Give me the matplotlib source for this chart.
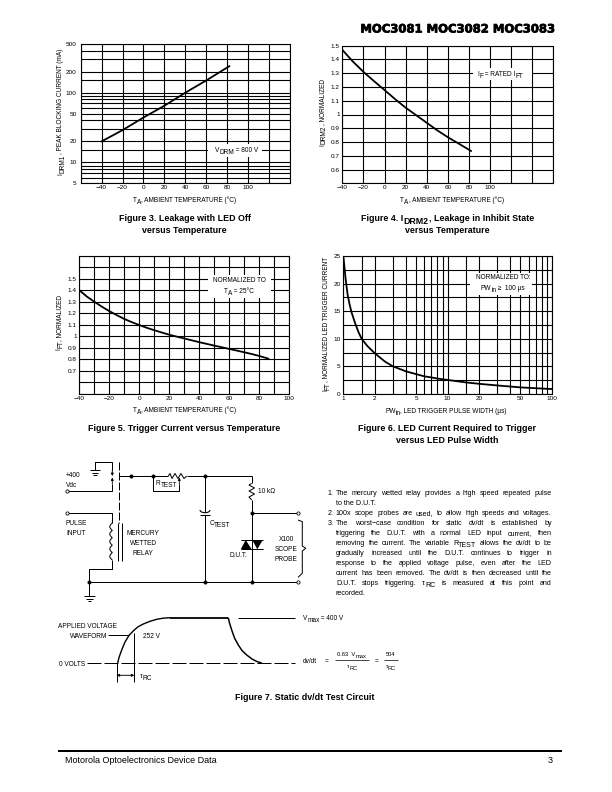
import re
import numpy as np
import matplotlib
matplotlib.use("Agg")
import matplotlib.pyplot as plt
import matplotlib.patheffects as pe

plt.rcParams['font.family'] = ['Liberation Sans', 'DejaVu Sans']

# figure 3
fig3_t = [-40, -20, 0, 20, 40, 60, 82]
fig3_i = [20, 29, 44, 65, 100, 150, 240]
fig3_xgrid = np.arange(-60, 141, 20)
fig3_ygrid = [5, 6, 7, 8, 9, 10, 15, 20, 30, 40, 50, 60, 70, 80, 90, 100, 150, 200, 300, 400, 500]
fig3_xticks = [-40, -20, 0, 20, 40, 60, 80, 100]
fig3_yticks = [5, 10, 20, 50, 100, 200, 500]

# figure 4
fig4_t = [-40, -30, -20, -10, 0, 10, 20, 30, 40, 50, 60, 70, 82]
fig4_i = [1.47, 1.385, 1.31, 1.243, 1.178, 1.112, 1.05, 0.995, 0.94, 0.885, 0.835, 0.79, 0.735]
fig4_xgrid = np.arange(-40, 161, 20)
fig4_ygrid = np.arange(0.5, 1.51, 0.1)
fig4_xticks = [-40, -20, 0, 20, 40, 60, 80, 100]
fig4_yticks = [0.6, 0.7, 0.8, 0.9, 1, 1.1, 1.2, 1.3, 1.4, 1.5]

# figure 5
fig5_t = [-40, -35, -30, -25, -20, -15, -10, -5, 0, 5, 10, 15, 20, 25, 30, 35, 40, 45, 50, 55, 60, 65, 70, 75, 80, 86]
fig5_i = [1.40, 1.345, 1.30, 1.257, 1.218, 1.183, 1.15, 1.122, 1.097, 1.073, 1.052, 1.032, 1.013,
          0.996, 0.98, 0.964, 0.948, 0.933, 0.918, 0.904, 0.889, 0.875, 0.86, 0.845, 0.828, 0.805]
fig5_xgrid = np.arange(-40, 101, 10)
fig5_ygrid = np.arange(0.5, 1.71, 0.1)
fig5_xticks = [-40, -20, 0, 20, 40, 60, 80, 100]
fig5_yticks = [0.7, 0.8, 0.9, 1, 1.1, 1.2, 1.3, 1.4, 1.5]

# figure 6
fig6_pw = [1, 1.02, 1.05, 1.1, 1.15, 1.2, 1.3, 1.4, 1.5, 1.7, 2, 2.5, 3, 4, 5, 6, 7, 8, 10, 15, 20, 30, 50, 70, 100]
fig6_i = [25, 23.5, 21, 18, 16.2, 14.8, 12.8, 11.2, 10, 8.7, 7.4, 5.9, 5, 4.1, 3.6, 3.2, 3, 2.8, 2.55,
          2.1, 1.85, 1.55, 1.2, 1.05, 0.9]
fig6_xgrid = [1, 1.5, 2, 3, 4, 5, 6, 7, 8, 9, 10, 15, 20, 30, 40, 50, 60, 70, 80, 90, 100]
fig6_ygrid = np.arange(0, 25.1, 2.5)
fig6_xticks = [1, 2, 5, 10, 20, 50, 100]
fig6_yticks = [0, 5, 10, 15, 20, 25]

# waveform of figure 7, page pixels
rise_x = [117.7, 119, 121.7, 125, 129.3, 134.3, 138, 143.3, 150, 156.7, 163, 170]
rise_y = [663, 657.5, 650, 642, 635, 630, 626.8, 624, 621.3, 619.3, 618.2, 617.7]
fall_x = [228.3, 229.5, 231.7, 234.5, 238.3, 242, 246.7, 252, 257, 261.7]
fall_y = [617.7, 623, 630, 638, 645, 650.5, 655, 659, 661.6, 663]

notes = [
    ("1.", "The mercury wetted relay provides a high speed repeated pulse", True),
    ("", "to the D.U.T.", False),
    ("2.", "100x scope probes are used, to allow high speeds and voltages.", True),
    ("3.", "The worst\u2212case condition for static dv/dt is established by", True),
    ("", "triggering the D.U.T. with a normal LED input current, then", True),
    ("", "removing the current. The variable R_{TEST} allows the dv/dt to be", True),
    ("", "gradually increased until the D.U.T. continues to trigger in", True),
    ("", "response to the applied voltage pulse, even after the LED", True),
    ("", "current has been removed. The dv/dt is then decreased until the", True),
    ("", "D.U.T. stops triggering. \u03c4_{RC} is measured at this point and", True),
    ("", "recorded.", False),
]

W, H = 612.0, 792.0
fig = plt.figure(figsize=(8.5, 11), dpi=72)
page = fig.add_axes([0, 0, 1, 1], zorder=5)
page.set_xlim(0, W)
page.set_ylim(H, 0)
page.axis('off')
page.patch.set_alpha(0)
rend = fig.canvas.get_renderer()


def chart(box, xlim, ylim, xgrid, ygrid, xticks, yticks, x, y, pad=2.5, logx=False, logy=False):
    l, r, t, b = box
    ax = fig.add_axes([l/W, 1-b/H, (r-l)/W, (b-t)/H])
    if logx:
        ax.set_xscale('log')
    if logy:
        ax.set_yscale('log')
    ax.set_xlim(xlim)
    ax.set_ylim(ylim)
    ax.minorticks_off()
    ax.set_xticks(xticks)
    ax.set_yticks(yticks)
    ax.set_xticklabels([str(v).replace('-', '\u2212') for v in xticks], fontsize=6.4)
    ax.set_yticklabels([str(v) for v in yticks], fontsize=6.4)
    ax.tick_params(length=0)
    ax.tick_params(axis='x', pad=2)
    ax.tick_params(axis='y', pad=pad)
    ax.vlines(xgrid, ylim[0], ylim[1], color='k', lw=1.1, zorder=1)
    ax.hlines(ygrid, xlim[0], xlim[1], color='k', lw=1.1, zorder=1)
    ax.plot(x, y, color='k', lw=1.8, zorder=3)
    for s in ax.spines.values():
        s.set_linewidth(1.1)
    return ax


def text_width(s, size, weight='normal'):
    # the bars stop a trailing space getting lost in the measure
    t1 = page.text(0, 0, "|" + s + "|", fontsize=size, weight=weight)
    t2 = page.text(0, 0, "||", fontsize=size, weight=weight)
    w = t1.get_window_extent(rend).width - t2.get_window_extent(rend).width
    t1.remove()
    t2.remove()
    return w


def split_subs(s):
    # "T_{A}, x" -> [("T", False), ("A", True), (", x", False)]
    bits = re.split(r'_\{([^}]*)\}', s)
    return [(b, i % 2 == 1) for i, b in enumerate(bits) if b]


def rich_width(s, size, weight='normal'):
    return sum(text_width(b, size, weight) for b, _ in split_subs(s))


def label(x, y, s, size=6.5, ha='center', rotation=0, weight='normal'):
    # text with subscripts as large as the text, as the data sheet has them
    total = rich_width(s, size, weight)
    off = {'left': 0, 'center': -total/2, 'right': -total}[ha]
    base = 0.36*size
    for b, is_sub in split_subs(s):
        drop = 0.3*size if is_sub else 0
        if rotation == 90:
            px, py = x + base + drop, y - off
        else:
            px, py = x + off, y + base + drop
        page.text(px, py, b, fontsize=size, ha='left', va='baseline', rotation=rotation,
                  rotation_mode='anchor', weight=weight)
        off += text_width(b, size, weight)


def wire(xs, ys, lw=1.0, **kw):
    page.plot(xs, ys, color='k', lw=lw, solid_capstyle='butt', **kw)


def dot(x, y, hollow=False):
    page.plot([x], [y], 'o', ms=3.2, color='k', mfc='white' if hollow else 'k', mew=0.8)


def white(l, r, t, b):
    page.fill([l, r, r, l], [t, t, b, b], color='white', lw=0, zorder=1)


def arrow(x0, y0, x1, y1, style='-|>'):
    page.annotate('', xy=(x1, y1), xytext=(x0, y0),
                  arrowprops=dict(arrowstyle=style, color='k', lw=0.9, mutation_scale=5, shrinkA=0, shrinkB=0))


chart((80.7, 290, 44, 183.3), (-60, 140), (5, 500), fig3_xgrid, fig3_ygrid, fig3_xticks, fig3_yticks,
      fig3_t, fig3_i, pad=4, logy=True)
chart((342.3, 553.3, 45.7, 183.3), (-40, 160), (0.5, 1.5), fig4_xgrid, fig4_ygrid, fig4_xticks, fig4_yticks,
      fig4_t, fig4_i)
chart((79.3, 289.3, 255.7, 393.7), (-40, 100), (0.5, 1.7), fig5_xgrid, fig5_ygrid, fig5_xticks, fig5_yticks,
      fig5_t, fig5_i)
chart((343.3, 551.7, 256, 394), (1, 100), (0, 25), fig6_xgrid, fig6_ygrid, fig6_xticks, fig6_yticks,
      fig6_pw, fig6_i, logx=True)

# header and footer
page.text(555.5, 29, "MOC3081 MOC3082 MOC3083", fontsize=11.6, ha='right', va='center', weight='bold',
          family='DejaVu Sans', path_effects=[pe.withStroke(linewidth=0.7, foreground='k')])
wire([58, 562], [750.7, 750.7], lw=2)
label(65, 760, "Motorola Optoelectronics Device Data", size=9, ha='left')
label(553, 760, "3", size=9, ha='right')

# in-chart notes
white(208, 262, 143.5, 157)
label(236.5, 149.5, "V_{DRM} = 800 V")
white(473, 532, 68, 80)
label(500, 74, "I_{F} = RATED I_{FT}")
white(208, 270.5, 275, 298)
label(239.3, 279.3, "NORMALIZED TO")
label(239, 290.5, "T_{A} = 25\u00b0C")
white(470, 532, 273, 295)
label(503, 277, "NORMALIZED TO:")
label(503, 287.7, "PW_{in} \u2265  100 \u00b5s")

# axis labels
label(184.5, 199.5, "T_{A}, AMBIENT TEMPERATURE (\u00b0C)")
label(452, 199.3, "T_{A}, AMBIENT TEMPERATURE (\u00b0C)")
label(184.5, 410, "T_{A}, AMBIENT TEMPERATURE (\u00b0C)")
label(446, 410.7, "PW_{in}, LED TRIGGER PULSE WIDTH (\u00b5s)")
label(60, 111.7, "I_{DRM1}, PEAK BLOCKING CURRENT (mA)", rotation=90)
label(321.7, 112.5, "I_{DRM2}, NORMALIZED", rotation=90)
label(58.3, 322.5, "I_{FT}, NORMALIZED", rotation=90)
label(325, 324, "I_{FT}, NORMALIZED LED TRIGGER CURRENT", rotation=90)

# captions
cap = dict(size=8.9, weight='bold')
label(184.8, 217.7, "Figure 3. Leakage with LED Off", **cap)
label(184.8, 229.3, "versus Temperature", **cap)
label(447.5, 218, "Figure 4. I_{DRM2}, Leakage in Inhibit State", **cap)
label(447.5, 229.3, "versus Temperature", **cap)
label(184.5, 428, "Figure 5. Trigger Current versus Temperature", **cap)
label(447, 428, "Figure 6. LED Current Required to Trigger", **cap)
label(447, 439.5, "versus LED Pulse Width", **cap)
label(305, 696.7, "Figure 7. Static dv/dt Test Circuit", **cap)

# circuit, page pixels
wire([95, 95, 112.3, 112.3], [470, 461.7, 461.7, 470])
for y, half in [(470, 5), (472.5, 3.3), (474.5, 1.7)]:
    wire([95-half, 95+half], [y, y])
wire([66.7, 112.3, 112.3], [490.7, 490.7, 484])
arrow(112.3, 470, 112.3, 476)
arrow(112.3, 484, 112.3, 477.5)
wire([119.3, 119.3], [461.7, 523], ls=(0, (8, 2)))
wire([119.3, 168.3], [476, 476])
res_x = [168.3, 170, 172, 175, 178, 181, 184, 186.7]
res_y = [476, 473.5, 478.5, 473.5, 478.5, 473.5, 478.5, 476]
wire(res_x, res_y)
wire([186.7, 251.7], [476, 476])
wire([153.3, 153.3, 179.3, 179.3], [476, 490.7, 490.7, 484])
arrow(179.3, 484, 179.3, 477.5)
# capacitor
wire([205, 205], [476, 512])
cap_t = np.linspace(0, np.pi, 15)
wire(205 + 5*np.cos(cap_t), 510 + 2.7*np.sin(cap_t), lw=1.1)
wire([200, 210], [515, 515], lw=1.1)
wire([205, 205], [515, 582.3])
# right hand branch
wire([251.7, 251.7], [476, 483.3])
res2_x = [251.7, 249, 254.5, 249, 254.5, 249, 251.7]
res2_y = [483.3, 485, 488, 491, 494, 497, 500]
wire(res2_x, res2_y)
wire([251.7, 251.7], [500, 582.3])
wire([251.7, 298], [513.3, 513.3])
wire([240.7, 262.7], [540, 540])
wire([240.7, 262.7], [549.3, 549.3])
page.fill([240.7, 251.7, 245.7], [549.3, 549.3, 540], color='k', lw=0)
page.fill([252.3, 262.7, 257.3], [540, 540, 549.3], color='k', lw=0)
# relay coil
wire([66.7, 112.3, 112.3], [513.3, 513.3, 523])
coil_t = np.linspace(0, 5*2*np.pi, 100)
wire(112.3 - 2.5*np.abs(np.sin(coil_t/2)), np.linspace(523, 560, 100))
wire([117.7, 117.7], [523, 560.7])
wire([122.3, 122.3], [523, 560.7])
wire([112.3, 112.3, 89.3, 89.3], [560, 569.3, 569.3, 596])
for y, half in [(596, 5.5), (598.7, 3.7), (601.3, 1.8)]:
    wire([89.3-half, 89.3+half], [y, y])
wire([89.3, 298], [582.3, 582.3])
# brace
wire([298, 302.3, 302.3, 305.7, 302.3, 302.3, 298], [520, 521.7, 546, 548.3, 551, 573.3, 577.3])
for x, y in [(131, 476), (153.3, 476), (205, 476), (89.3, 582.3), (205, 582.3), (251.7, 582.3), (251.7, 513.3)]:
    dot(x, y)
for x, y in [(66.7, 490.7), (66.7, 513.3), (298, 513.3), (298, 582.3)]:
    dot(x, y, hollow=True)

label(66, 474.5, "+400", ha='left')
label(66, 484.5, "Vdc", ha='left')
label(66, 522.5, "PULSE", ha='left')
label(66, 532.5, "INPUT", ha='left')
label(143, 532.5, "MERCURY")
label(143, 542.5, "WETTED")
label(143, 552.5, "RELAY")
label(156, 482.5, "R_{TEST}", ha='left')
label(258.5, 491, "10 k\u03a9", ha='left')
label(209.5, 522.5, "C_{TEST}", ha='left')
label(230, 554.5, "D.U.T.", ha='left')
label(286, 538.5, "X100")
label(286, 548.5, "SCOPE")
label(286, 558.5, "PROBE")

# waveform
wire([86.7, 295], [663, 663], ls=(0, (14, 3)))
wire(rise_x, rise_y, lw=1.4)
wire([170, 228.3], [617.7, 617.7], lw=1.8)
wire(fall_x, fall_y, lw=1.5)
wire([238.3, 295], [617.7, 617.7])
wire([108.3, 129.3], [635, 635])
wire([134.3, 134.3], [633, 682])
wire([116.7, 116.7], [663, 682])
arrow(116.7, 675.3, 134.3, 675.3, style='<|-|>')
label(58.3, 625.7, "APPLIED VOLTAGE", ha='left')
label(70, 636, "WAVEFORM", ha='left')
label(59.3, 663.3, "0 VOLTS", ha='left')
label(142.7, 635.5, "252 V", ha='left')
label(140, 675.5, "\u03c4_{RC}", ha='left')
label(302.7, 617.7, "V_{max} = 400 V", ha='left')
label(303, 661, "dv/dt", ha='left')
label(326.7, 661, "=")
wire([335, 368.5], [660, 660], lw=0.7)
label(352, 654, "0.63  V_{max}", size=5.8)
label(352, 665.7, "\u03c4_{RC}", size=5.8)
label(376.7, 661, "=")
wire([384, 397.5], [660, 660], lw=0.7)
label(391, 654, "504", size=5.8)
label(391, 665.7, "\u03c4_{RC}", size=5.8)

# notes, justified by hand
note_size = 7.1
for i, (num, line, just) in enumerate(notes):
    y = 492.3 + i*10
    if num:
        label(327.3, y, num, size=note_size, ha='left')
    if not just:
        label(336, y, line, size=note_size, ha='left')
        continue
    words = line.split(' ')
    widths = [rich_width(w, note_size) for w in words]
    gap = (551.7 - 336 - sum(widths)) / (len(words) - 1)
    x = 336.0
    for w, wd in zip(words, widths):
        label(x, y, w, size=note_size, ha='left')
        x += wd + gap

fig.savefig("out.png", dpi=72)
